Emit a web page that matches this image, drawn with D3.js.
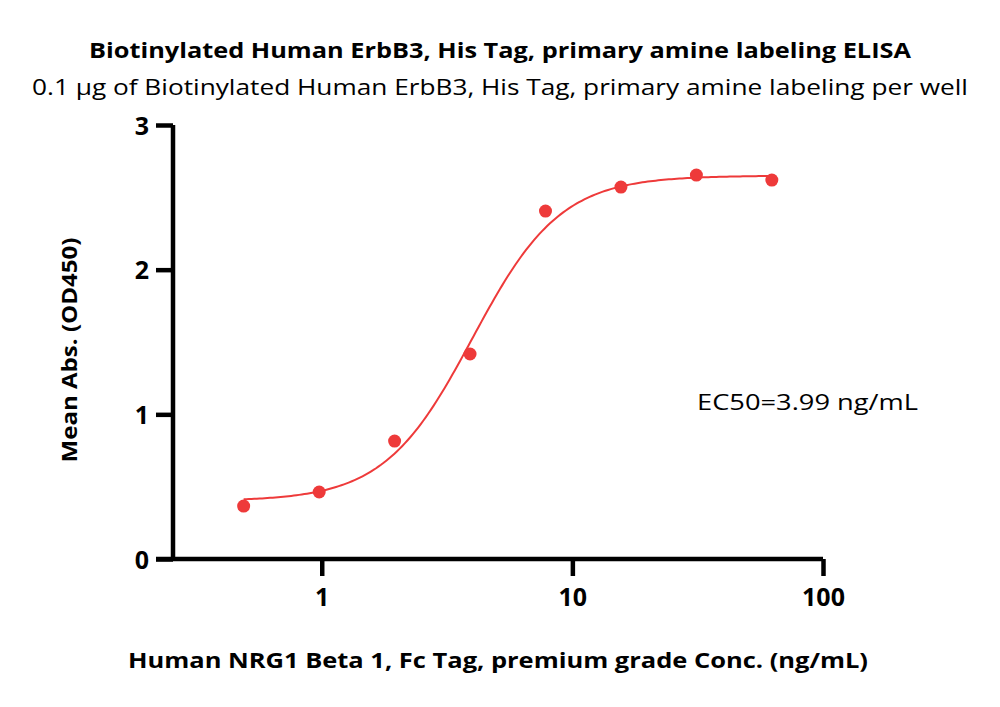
<!DOCTYPE html>
<html><head><meta charset="utf-8">
<script src="https://cdn.jsdelivr.net/npm/d3@7"></script>
<style>body{margin:0;background:#fff}svg{display:block}
.ax path,.ax line{stroke:#000 !important;stroke-width:4.5px !important;}</style>
</head><body>
<svg id="c" width="1000" height="707"></svg>
<script>
const conc = [0.488, 0.977, 1.953, 3.906, 7.8125, 15.625, 31.25, 62.5];
const absVals = [0.366, 0.463, 0.815, 1.417, 2.405, 2.571, 2.654, 2.619];
const fitParams = [0.40, 2.65, 3.99, 2.47]; // bottom, top, EC50, hill
const yTicks = [0, 1, 2, 3];
const xTicks = [1, 10, 100];
const titleText = "Biotinylated Human ErbB3, His Tag, primary amine labeling ELISA";
const subtitleText = "0.1 µg of Biotinylated Human ErbB3, His Tag, primary amine labeling per well";
const xLabel = "Human NRG1 Beta 1, Fc Tag, premium grade Conc. (ng/mL)";
const yLabel = "Mean Abs. (OD450)";
const ec50Label = "EC50=3.99 ng/mL";

const svg = d3.select("#c");
const font = "'Open Sans', 'DejaVu Sans', sans-serif";
const x = d3.scaleLog().domain([0.255, 100]).range([173, 823]);
const y = d3.scaleLinear().domain([0, 3]).range([559, 125]);
const red = "#ee3a3a";

svg.append("text").attr("x", 500).attr("y", 58).attr("text-anchor", "middle")
  .attr("font-family", font).attr("font-weight", "bold").attr("font-size", 22)
  .attr("textLength", 822).attr("lengthAdjust", "spacingAndGlyphs").text(titleText);
svg.append("text").attr("x", 500).attr("y", 95).attr("text-anchor", "middle")
  .attr("font-family", font).attr("font-size", 22)
  .attr("textLength", 936).attr("lengthAdjust", "spacingAndGlyphs").text(subtitleText);

const yAxis = svg.append("g").attr("class", "ax").attr("transform", "translate(173,0)")
  .call(d3.axisLeft(y).tickValues(yTicks).tickFormat(d3.format("d")).tickSize(17).tickPadding(7));
const xAxis = svg.append("g").attr("class", "ax").attr("transform", "translate(0,559)")
  .call(d3.axisBottom(x).tickValues(xTicks).tickFormat(d3.format("d")).tickSize(17).tickPadding(12));
[yAxis, xAxis].forEach(g => {
  g.selectAll(".tick text").attr("fill", "#000").attr("font-family", font)
    .attr("font-weight", "bold").attr("font-size", 25);
});
yAxis.select(".domain").attr("d", `M0,${y(3)}V${y(0)}`);
xAxis.select(".domain").attr("d", `M156,0H${x(100)}`);
yAxis.selectAll(".tick text").attr("dy", "0.36em");

// fitted 4PL curve
const [b, t, ec, h] = fitParams;
const logMin = Math.log10(conc[0]), logMax = Math.log10(conc[conc.length - 1]);
const curve = d3.range(0, 201).map(i => {
  const c = Math.pow(10, logMin + (logMax - logMin) * i / 200);
  return [c, b + (t - b) / (1 + Math.pow(ec / c, h))];
});
svg.append("path").datum(curve).attr("fill", "none").attr("stroke", red).attr("stroke-width", 2)
  .attr("d", d3.line().x(d => x(d[0])).y(d => y(d[1])));

svg.selectAll("circle.pt").data(conc).enter().append("circle").attr("class", "pt")
  .attr("cx", d => x(d)).attr("cy", (d, i) => y(absVals[i])).attr("r", 6.5).attr("fill", red);

svg.append("text").attr("x", 697).attr("y", 410).attr("font-family", font).attr("font-size", 22)
  .attr("textLength", 221).attr("lengthAdjust", "spacingAndGlyphs").text(ec50Label);

svg.append("text").attr("x", 498).attr("y", 668).attr("text-anchor", "middle")
  .attr("font-family", font).attr("font-weight", "bold").attr("font-size", 22)
  .attr("textLength", 740).attr("lengthAdjust", "spacingAndGlyphs").text(xLabel);
svg.append("text").attr("transform", "translate(77,350) rotate(-90)").attr("text-anchor", "middle")
  .attr("font-family", font).attr("font-weight", "bold").attr("font-size", 22)
  .attr("textLength", 225).attr("lengthAdjust", "spacingAndGlyphs").text(yLabel);
</script>
</body></html>
